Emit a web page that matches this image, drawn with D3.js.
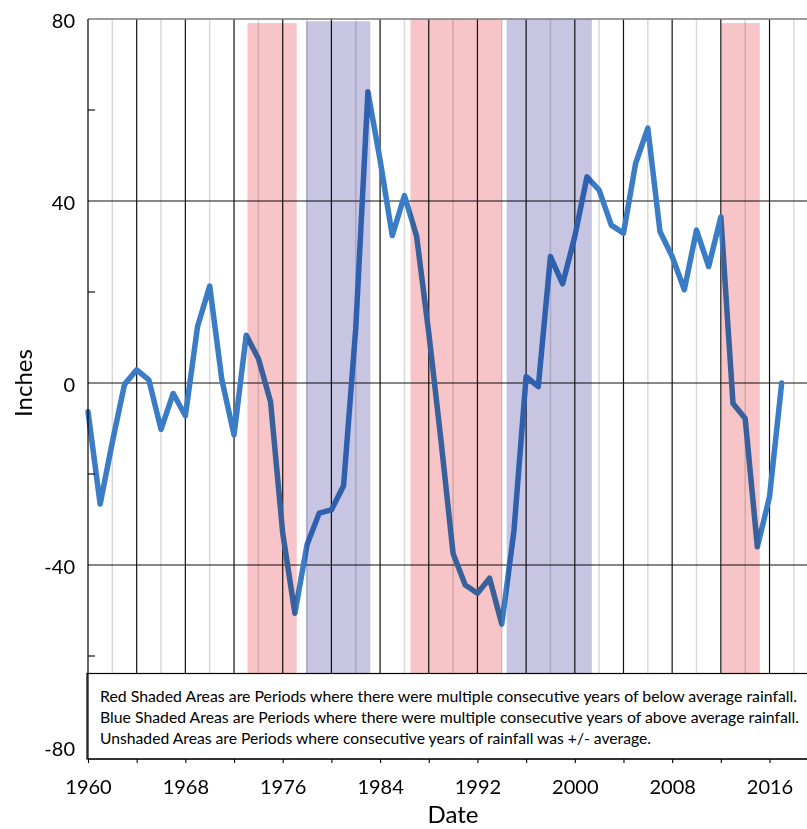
<!DOCTYPE html>
<html>
<head>
<meta charset="utf-8">
<script src="https://cdn.jsdelivr.net/npm/d3@7"></script>
<style>
  html, body { margin: 0; padding: 0; background: #fff; }
  svg { display: block; }
  text { font-family: Lato, "Open Sans", sans-serif; fill: #000; }
</style>
</head>
<body>
<svg id="chart" width="807" height="829"></svg>
<script>
// ---------- DATA ----------
const years = [1960,1961,1962,1963,1964,1965,1966,1967,1968,1969,
               1970,1971,1972,1973,1974,1975,1976,1977,1978,1979,
               1980,1981,1982,1983,1984,1985,1986,1987,1988,1989,
               1990,1991,1992,1993,1994,1995,1996,1997,1998,1999,
               2000,2001,2002,2003,2004,2005,2006,2007,2008,2009,
               2010,2011,2012,2013,2014,2015,2016,2017];
const inches = [-6.3,-26.6,-13,-0.3,2.9,0.7,-10.2,-2.3,-7.2,12.4,
                21.3,0.7,-11.4,10.5,5.4,-4.1,-33,-50.6,-35.5,-28.6,
                -27.9,-22.6,12,64,49,32.4,41.2,32.3,11,-12.5,
                -37.5,-44.4,-46.2,-42.9,-53,-32.5,1.4,-0.8,27.8,21.8,
                32.2,45.3,42.4,34.7,32.9,48.3,56,33.3,27.8,20.5,
                33.6,25.6,36.5,-4.5,-7.8,-36,-25,0];

const periodStart = [1973.1, 1977.9, 1986.5, 1994.4, 2012.07];
const periodEnd   = [1977.15, 1983.2, 1994.0, 2001.4, 2015.2];
const periodType  = ["below", "above", "below", "above", "below"];
const periodTop   = [79.1, 79.5, 80, 80, 79.1];

const yLabelTicks = [-80, -40, 0, 40, 80];
const yGridTicks = [-40, 0, 40];
const yMinorTicks = [-60, -20, 20, 60];
const xMajorGrid = [1964,1968,1972,1976,1980,1984,1988,1992,1996,2000,2004,2008,2012,2016];
const xMinorGrid = [1962,1966,1970,1974,1978,1982,1986,1990,1994,1998,2002,2006,2010,2014,2018];
const xTicks = [1960,1964,1968,1972,1976,1980,1984,1988,1992,1996,2000,2004,2008,2012,2016];
const xLabelYears = [1960,1968,1976,1984,1992,2000,2008,2016];

const legendLines = [
  "Red Shaded Areas are Periods where there were multiple consecutive years of below average rainfall.",
  "Blue Shaded Areas are Periods where there were multiple consecutive years of above average rainfall.",
  "Unshaded Areas are Periods where consecutive years of rainfall was +/- average."
];
const legendWidths = [697, 699, 551];

const xTitle = "Date";
const yTitle = "Inches";
const yMin = -82.64;

// ---------- SCALES ----------
const svg = d3.select("#chart");
const x = d3.scaleLinear().domain([1960, 2020]).range([88, 818.2]);
const y = d3.scaleLinear().domain([-80, 80]).range([747, 19]);
const plotTop = y(80), plotBottom = y(yMin), plotLeft = x(1960);

// ---------- GRID ----------
const grid = svg.append("g");
grid.selectAll(".vmin").data(xMinorGrid).enter().append("line")
  .attr("x1", d => x(d)).attr("x2", d => x(d))
  .attr("y1", plotTop).attr("y2", plotBottom)
  .attr("stroke", "#d9d9d9").attr("stroke-width", 1.5);
grid.selectAll(".vmaj").data(xMajorGrid).enter().append("line")
  .attr("x1", d => x(d)).attr("x2", d => x(d))
  .attr("y1", plotTop).attr("y2", plotBottom)
  .attr("stroke", "#111").attr("stroke-width", 1.2);
grid.selectAll(".hgrid").data(yGridTicks).enter().append("line")
  .attr("x1", plotLeft).attr("x2", 807)
  .attr("y1", d => y(d)).attr("y2", d => y(d))
  .attr("stroke", "#111").attr("stroke-width", 1.2);

// ---------- LINE ----------
const lineGen = d3.line().x((d, i) => x(years[i])).y(d => y(d));
svg.append("path").datum(inches)
  .attr("d", lineGen)
  .attr("fill", "none")
  .attr("stroke", "#3a7cc5")
  .attr("stroke-width", 5.5)
  .attr("stroke-linejoin", "round")
  .attr("stroke-linecap", "round");

// ---------- SHADED PERIODS ----------
svg.append("g").selectAll("rect").data(periodStart).enter().append("rect")
  .attr("x", (d) => x(d))
  .attr("width", (d, i) => x(periodEnd[i]) - x(d))
  .attr("y", (d, i) => y(periodTop[i]))
  .attr("height", (d, i) => plotBottom - y(periodTop[i]))
  .attr("fill", (d, i) => periodType[i] === "below" ? "rgb(247,197,199)" : "rgb(200,197,226)")
  .style("mix-blend-mode", "multiply");

// ---------- TOP BORDER ----------
svg.append("line")
  .attr("x1", plotLeft).attr("x2", 807)
  .attr("y1", plotTop).attr("y2", plotTop)
  .attr("stroke", "#7a7a7a").attr("stroke-width", 1.5);

// ---------- LEGEND BOX ----------
const lg = svg.append("g");
lg.append("rect")
  .attr("x", 87).attr("y", 673.5)
  .attr("width", 760).attr("height", plotBottom - 673.5)
  .attr("fill", "#fff").attr("stroke", "#000").attr("stroke-width", 1.2);
lg.selectAll("text").data(legendLines).enter().append("text")
  .attr("x", 100)
  .attr("y", (d, i) => 701.5 + i * 21)
  .attr("font-size", 15)
  .attr("textLength", (d, i) => legendWidths[i])
  .attr("lengthAdjust", "spacingAndGlyphs")
  .text(d => d);

// ---------- AXES ----------
const yAxis = d3.axisLeft(y).tickValues(yLabelTicks).tickSize(0).tickPadding(13)
  .tickFormat(d => String(d));
const gy = svg.append("g").attr("transform", `translate(${plotLeft},2)`).call(yAxis);
gy.select(".domain").remove();
gy.selectAll("text").attr("font-size", 20).attr("font-family", "Lato, 'Open Sans', sans-serif");

svg.append("line")
  .attr("x1", plotLeft).attr("x2", plotLeft)
  .attr("y1", plotTop).attr("y2", plotBottom)
  .attr("stroke", "#000").attr("stroke-width", 1.2);
svg.append("g").selectAll("line").data(yMinorTicks).enter().append("line")
  .attr("x1", plotLeft).attr("x2", plotLeft + 7)
  .attr("y1", d => y(d)).attr("y2", d => y(d))
  .attr("stroke", "#000").attr("stroke-width", 1.1);

const xAxis = d3.axisBottom(x).tickValues(xTicks).tickSizeInner(4).tickSizeOuter(0).tickPadding(17)
  .tickFormat(d => xLabelYears.includes(d) ? String(d) : "");
const gx = svg.append("g").attr("transform", `translate(0,${plotBottom})`).call(xAxis);
gx.select(".domain").remove();
gx.selectAll("text").attr("font-size", 20).attr("font-family", "Lato, 'Open Sans', sans-serif");
gx.selectAll(".tick line").attr("stroke", "#000").attr("stroke-width", 1.1);
svg.append("line")
  .attr("x1", plotLeft).attr("x2", 807)
  .attr("y1", plotBottom).attr("y2", plotBottom)
  .attr("stroke", "#000").attr("stroke-width", 1.2);

// ---------- TITLES ----------
svg.append("text")
  .attr("x", 453).attr("y", 823)
  .attr("text-anchor", "middle")
  .attr("font-size", 24)
  .text(xTitle);
svg.append("text")
  .attr("transform", "translate(32,383) rotate(-90)")
  .attr("text-anchor", "middle")
  .attr("font-size", 24)
  .text(yTitle);
</script>
</body>
</html>
